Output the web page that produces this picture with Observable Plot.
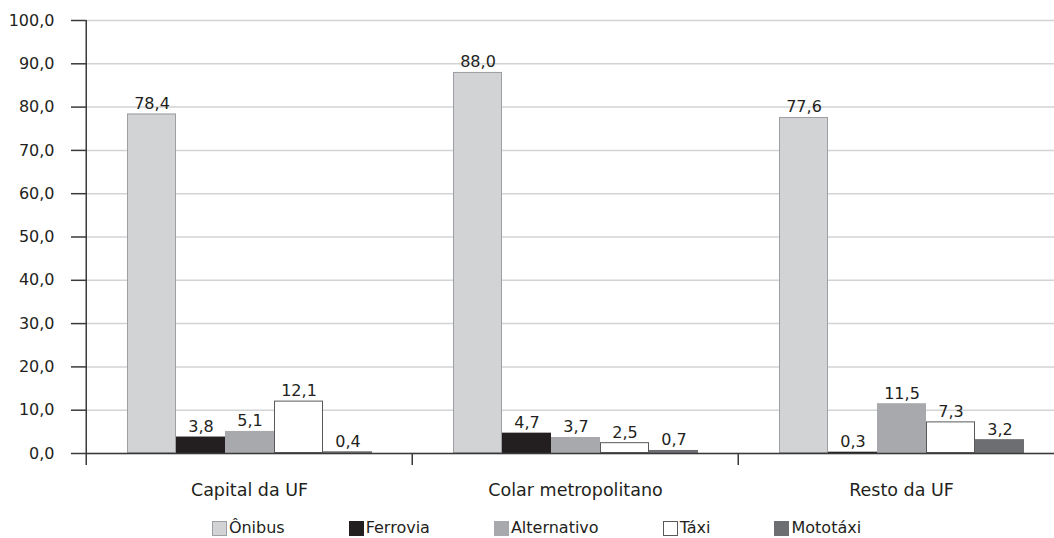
<!DOCTYPE html>
<html>
<head>
<meta charset="utf-8">
<script src="https://cdn.jsdelivr.net/npm/d3@7"></script>
<script src="https://cdn.jsdelivr.net/npm/@observablehq/plot@0.6"></script>
<style>
  html, body { margin: 0; padding: 0; background: white; overflow: hidden; }
  #chart svg { overflow: hidden; }
  .legend {
    display: flex; justify-content: center; gap: 64px;
    font: 16px "DejaVu Sans", sans-serif; color: #231f20;
    padding-top: 13px; line-height: 20px; margin-left: 19px;
  }
  .legend .item { display: flex; align-items: center; gap: 2px; }
  .legend .sw { width: 15px; height: 15px; box-sizing: border-box; }
</style>
</head>
<body>
<div id="chart"></div>
<div class="legend" id="legend"></div>
<script>
// Data
const groups = ["Capital da UF", "Colar metropolitano", "Resto da UF"];
const modes = ["Ônibus", "Ferrovia", "Alternativo", "Táxi", "Mototáxi"];
const onibus = [78.4, 88.0, 77.6];
const ferrovia = [3.8, 4.7, 0.3];
const alternativo = [5.1, 3.7, 11.5];
const taxi = [12.1, 2.5, 7.3];
const mototaxi = [0.4, 0.7, 3.2];
const yTicks = [0, 10, 20, 30, 40, 50, 60, 70, 80, 90, 100];

// Styles
const fills = ["#d1d3d4", "#231f20", "#a7a9ac", "#ffffff", "#6d6e71"];
const outlines = {"Ônibus": "#9d9fa2", "Táxi": "#58595b"};
const font = "DejaVu Sans, sans-serif";
const ink = "#231f20";

const series = [onibus, ferrovia, alternativo, taxi, mototaxi];
const rows = groups.flatMap((g, i) => modes.map((m, j) => ({group: g, mode: m, value: series[j][i]})));
const fmt = d => d.toFixed(1).replace(".", ",");

const left = 85, right = 1064.5;
const half = (right - left) / groups.length / 2;

const chart = Plot.plot({
  width: 1054,
  height: 505,
  marginTop: 20,
  marginLeft: left,
  marginRight: 0,
  marginBottom: 52,
  style: {fontFamily: font, fontSize: "16px", color: ink, background: "white"},
  fx: {domain: groups, range: [left, right], padding: 0},
  x: {domain: modes, paddingInner: 0, paddingOuter: 0.765, axis: null},
  y: {domain: [0, 100]},
  color: {domain: modes, range: fills},
  marks: [
    Plot.gridY(yTicks, {stroke: "#d1d3d4", strokeOpacity: 1, strokeWidth: 1.5}),
    Plot.barY(rows, {fx: "group", x: "mode", y: "value", fill: "mode"}),
    Plot.barY(rows, {fx: "group", x: "mode", y: "value", fill: "none",
      filter: d => d.mode in outlines, stroke: d => outlines[d.mode], strokeWidth: 1, inset: 0.5}),
    Plot.ruleY([0], {stroke: "#3a3a3a", strokeWidth: 1.5}),
    // group boundary ticks and the vertical axis line
    Plot.ruleX(groups, {fx: d => d, x: null, y1: -2.8, y2: d => d === groups[0] ? 100 : 0,
      dx: -half, stroke: "#3a3a3a", strokeWidth: 1.5}),
    Plot.axisY({ticks: yTicks, tickFormat: fmt, tickSize: 15, tickPadding: 17, label: null,
      fontSize: 16, stroke: "#3a3a3a", strokeWidth: 1.5, fill: ink}),
    Plot.axisFx({anchor: "bottom", tickSize: 0, tickPadding: 30, label: null, fontSize: 17.5, fill: ink}),
    Plot.text(rows, {fx: "group", x: "mode", y: "value", text: d => fmt(d.value),
      dy: -5, lineAnchor: "bottom", fontSize: 16, fill: ink})
  ]
});
document.getElementById("chart").append(chart);

// Legend
const legend = document.getElementById("legend");
modes.forEach((m, i) => {
  const item = document.createElement("div");
  item.className = "item";
  const sw = document.createElement("span");
  sw.className = "sw";
  sw.style.background = fills[i];
  if (outlines[m]) sw.style.border = "1px solid " + outlines[m];
  const label = document.createElement("span");
  label.textContent = m;
  item.append(sw, label);
  legend.append(item);
});
</script>
</body>
</html>
